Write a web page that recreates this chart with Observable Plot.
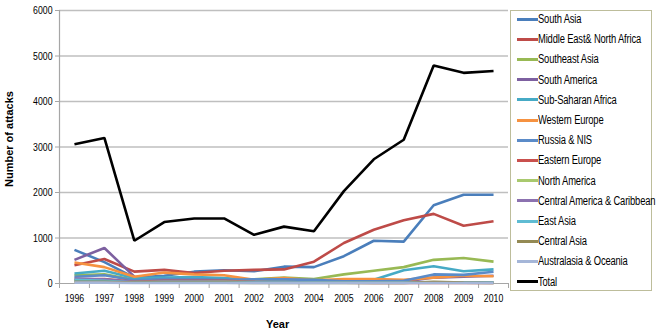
<!DOCTYPE html>
<html>
<head>
<meta charset="utf-8">
<script src="https://cdn.jsdelivr.net/npm/d3@7"></script>
<script src="https://cdn.jsdelivr.net/npm/@observablehq/plot@0.6"></script>
<style>
  html, body { margin: 0; padding: 0; background: #fff; }
  #wrap { position: relative; width: 661px; height: 335px; font-family: "Liberation Sans", Arial, sans-serif; }
  #legend { position: absolute; left: 510px; top: 10px; width: 142px; height: 281px; border: 1px solid #BDBD9B; box-sizing: border-box; background: #fff; }
  .item { position: absolute; left: 6px; height: 14px; font-size: 12.5px; color: #000; white-space: nowrap; display: flex; align-items: center; }
  .sw { width: 21px; height: 3px; margin-right: 0px; flex: none; }
  .tx { display: inline-block; transform: scaleX(0.75); transform-origin: left center; letter-spacing: -0.2px; }
  .ytitle { position: absolute; font-weight: bold; font-size: 11px; font-family: "Liberation Sans", Arial, sans-serif; white-space: nowrap; }
</style>
</head>
<body>
<div id="wrap"></div>
<script>
const years = [1996,1997,1998,1999,2000,2001,2002,2003,2004,2005,2006,2007,2008,2009,2010];
const yTicks = [0,1000,2000,3000,4000,5000,6000];

const seriesNames = ["South Asia","Middle East& North Africa","Southeast Asia","South America","Sub-Saharan Africa","Western Europe","Russia & NIS","Eastern Europe","North America","Central America & Caribbean","East Asia","Central Asia","Australasia & Oceania","Total"];
const seriesColors = ["#4A7EBB","#BE4B48","#98B954","#7D60A0","#46AAC5","#F69240","#5B8BC8","#C9504D","#A9C96E","#8C72B0","#5FBCD3","#948A54","#A5B6D8","#000000"];

const southAsia      = [740,470,130,170,260,290,270,370,360,600,940,920,1720,1950,1950];
const middleEast     = [400,540,260,300,230,280,300,310,480,890,1180,1390,1530,1270,1370];
const southeastAsia  = [180,200,80,110,100,100,90,130,100,200,280,360,520,560,480];
const southAmerica   = [520,780,150,100,100,90,80,70,60,50,50,40,130,150,170];
const subSaharan     = [220,280,120,130,140,120,80,70,50,60,80,290,380,270,310];
const westernEurope  = [460,360,150,240,200,180,80,120,70,100,100,80,130,170,160];
const russiaNIS      = [150,180,70,100,90,80,90,90,80,50,50,60,200,190,260];
const easternEurope  = [80,100,40,60,60,60,30,20,20,20,10,10,10,10,10];
const northAmerica   = [60,50,30,40,40,40,30,30,20,20,20,20,20,20,20];
const centralAmerica = [110,90,30,40,40,30,30,30,20,20,20,20,20,20,20];
const eastAsia       = [80,60,20,30,30,30,20,20,20,20,20,20,20,20,20];
const centralAsia    = [40,40,20,20,20,20,10,10,10,10,10,10,40,20,10];
const australasia    = [20,20,10,10,10,10,10,10,10,10,10,10,10,10,10];
const total          = [3060,3200,940,1350,1430,1430,1070,1250,1150,2030,2730,3160,4790,4630,4670];

const seriesValues = [southAsia,middleEast,southeastAsia,southAmerica,subSaharan,westernEurope,russiaNIS,easternEurope,northAmerica,centralAmerica,eastAsia,centralAsia,australasia,total];

const rows = [];
seriesNames.forEach((name, i) => {
  seriesValues[i].forEach((v, j) => rows.push({series: name, year: years[j], value: v}));
});
const boundaries = [years[0] - 0.5, ...years.map(y => y + 0.5)];

const chart = Plot.plot({
  width: 661,
  height: 335,
  marginLeft: 59,
  marginRight: 153,
  marginTop: 10,
  marginBottom: 52,
  style: {fontFamily: '"Liberation Sans", Arial, sans-serif', fontSize: "11px", background: "#fff", color: "#000"},
  x: {domain: [years[0] - 0.5, years[years.length - 1] + 0.5], label: null},
  y: {domain: [0, 6000], label: null},
  color: {domain: seriesNames, range: seriesColors},
  marks: [
    Plot.gridY(yTicks.slice(1), {stroke: "#BFBFBF", strokeOpacity: 1, strokeWidth: 1.5}),
    Plot.ruleY([0], {stroke: "#A6A6A6", strokeWidth: 1.2}),
    Plot.ruleX([years[0] - 0.5], {stroke: "#A6A6A6", strokeWidth: 1.2}),
    Plot.axisY({ticks: yTicks, tickSize: 4, tickPadding: 3, stroke: "#A6A6A6", tickFormat: d => String(d), fontSize: 11.5}),
    Plot.axisX({ticks: boundaries, tickSize: 5, tickFormat: () => "", stroke: "#A6A6A6"}),
    Plot.axisX({ticks: years, tickSize: 0, tickPadding: 10, tickFormat: d => String(d), fontSize: 11.5}),
    Plot.line(rows, {x: "year", y: "value", z: "series", stroke: "series", strokeWidth: 2.6, strokeLinejoin: "miter", strokeLinecap: "butt"})
  ]
});

const wrap = document.getElementById("wrap");
wrap.appendChild(chart);

// condense tick label text to mimic a narrow font
d3.select(chart).selectAll("text").each(function() {
  if (!this.textContent) return;
  const w = this.getComputedTextLength();
  if (w > 0) {
    this.setAttribute("textLength", (w * 0.76).toFixed(2));
    this.setAttribute("lengthAdjust", "spacingAndGlyphs");
  }
});

const yt = document.createElement("div");
yt.className = "ytitle";
yt.textContent = "Number of attacks";
yt.style.left = "-41px";
yt.style.top = "133px";
yt.style.width = "100px";
yt.style.textAlign = "center";
yt.style.transform = "rotate(-90deg)";
wrap.appendChild(yt);

const xt = document.createElement("div");
xt.className = "ytitle";
xt.textContent = "Year";
xt.style.left = "266px";
xt.style.top = "318px";
wrap.appendChild(xt);

const legend = document.createElement("div");
legend.id = "legend";
seriesNames.forEach((name, i) => {
  const it = document.createElement("div");
  it.className = "item";
  it.style.top = (1 + i * 20.2) + "px";
  const sw = document.createElement("span");
  sw.className = "sw";
  sw.style.background = seriesColors[i];
  const tx = document.createElement("span");
  tx.className = "tx";
  tx.textContent = name;
  it.appendChild(sw);
  it.appendChild(tx);
  legend.appendChild(it);
});
wrap.appendChild(legend);
</script>
</body>
</html>
